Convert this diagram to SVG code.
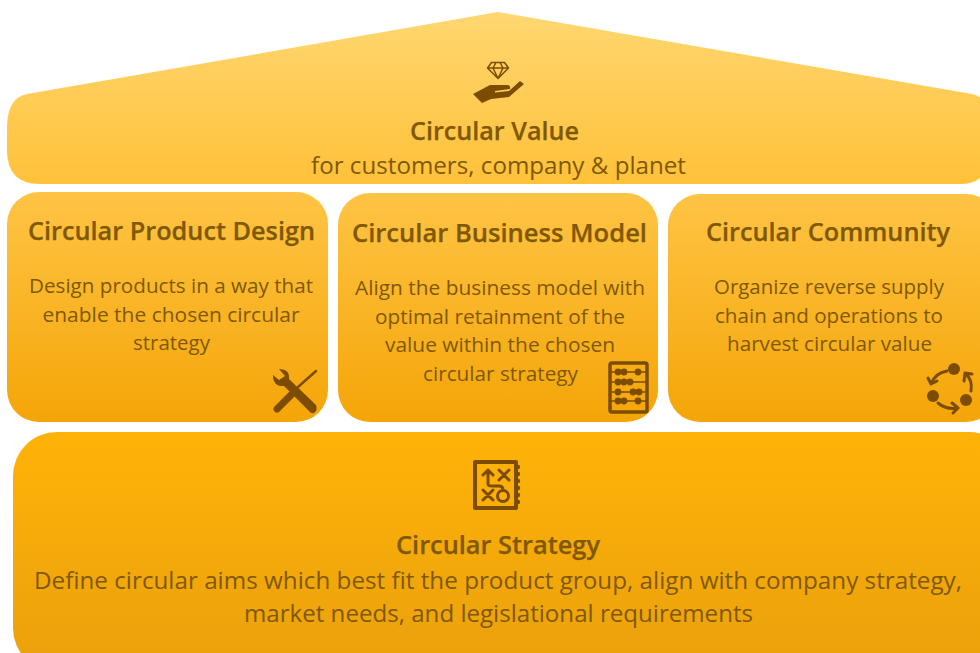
<svg xmlns="http://www.w3.org/2000/svg" width="980" height="653" viewBox="0 0 980 653">
<style>
text{font-family:"Open Sans","Noto Sans",sans-serif;fill:#7f5800;text-anchor:middle}
.h{font-size:25.300px;font-weight:600;stroke:#7f5800;stroke-width:.25}
.b{font-size:20.600px}
.s{font-size:24.200px}
.ic{fill:none;stroke:#7c4d00;stroke-linecap:round;stroke-linejoin:round}
.if{fill:#7c4d00}
</style>
<defs>
<linearGradient id="g1" gradientUnits="userSpaceOnUse" x1="0" y1="12" x2="0" y2="184"><stop offset="0" stop-color="#ffd771"/><stop offset="1" stop-color="#ffc139"/></linearGradient>
<linearGradient id="g2" gradientUnits="userSpaceOnUse" x1="0" y1="192" x2="0" y2="423"><stop offset="0" stop-color="#ffc445"/><stop offset="1" stop-color="#f4a507"/></linearGradient>
<linearGradient id="g3" gradientUnits="userSpaceOnUse" x1="0" y1="432" x2="0" y2="653"><stop offset="0" stop-color="#ffb308"/><stop offset="1" stop-color="#eba20c"/></linearGradient>
</defs>
<g id="value">
<path fill="url(#g1)" d="M498 12L972 94Q982 96 988 106V156Q988 184 960 184H40Q7 184 7 150V128Q7 98 27 94Z"/>
<text class="h" x="494.500" y="140" textLength="169" lengthAdjust="spacingAndGlyphs">Circular Value</text>
<text class="s" x="498.500" y="174" textLength="375" lengthAdjust="spacingAndGlyphs">for customers, company &amp; planet</text>
<path class="ic" style="stroke-width:1.500" d="M491.500 62.500h13l4 5.500-10.500 10.500-10.500-10.500zM487.500 68h21M493 68l5 10.500 5-10.500M493 68l3-5.500M503 68l-3-5.500"/>
<path class="if" d="M473 94L490 85L508 85Q511 86 510 89L495 91L495 92.500L509 91L520 81L524 84L509 97L491 99L482 103Z"/>
</g>
<g id="design">
<rect x="7" y="192" width="321" height="230" rx="32" fill="url(#g2)"/>
<text class="h" x="171.500" y="240" textLength="287" lengthAdjust="spacingAndGlyphs">Circular Product Design</text>
<text class="b" x="171" y="293" textLength="284" lengthAdjust="spacingAndGlyphs">Design products in a way that</text>
<text class="b" x="171" y="322" textLength="257" lengthAdjust="spacingAndGlyphs">enable the chosen circular</text>
<text class="b" x="171.500" y="350" textLength="77" lengthAdjust="spacingAndGlyphs">strategy</text>
<path class="if" d="M279 369Q290 369 289 379L316 405Q318 410 314 413Q311 414 309 411L284 386Q273 387 273 375L279 380L285 376Z"/>
<path class="ic" style="stroke-width:2.500" d="M298 387L316 371"/>
<path class="ic" style="stroke-width:7" d="M277 409L292 394"/>
</g>
<g id="business">
<rect x="338" y="193" width="320" height="229" rx="32" fill="url(#g2)"/>
<text class="h" x="499.500" y="242" textLength="295" lengthAdjust="spacingAndGlyphs">Circular Business Model</text>
<text class="b" x="500" y="295" textLength="290" lengthAdjust="spacingAndGlyphs">Align the business model with</text>
<text class="b" x="500" y="324" textLength="250" lengthAdjust="spacingAndGlyphs">optimal retainment of the</text>
<text class="b" x="500" y="352" textLength="230" lengthAdjust="spacingAndGlyphs">value within the chosen</text>
<text class="b" x="500.500" y="381" textLength="155" lengthAdjust="spacingAndGlyphs">circular strategy</text>
<rect class="ic" style="stroke-width:3.500" x="610" y="363" width="37" height="49" rx="2"/>
<path class="ic" style="stroke-width:1.500" d="M610 372h37M610 382h37M610 392h37M610 401h37"/>
<g class="if"><circle cx="618" cy="372" r="3.400"/><circle cx="624" cy="372" r="3.400"/><circle cx="638" cy="372" r="3.400"/><circle cx="618" cy="382" r="3.400"/><circle cx="624" cy="382" r="3.400"/><circle cx="630" cy="382" r="3.400"/><circle cx="618" cy="392" r="3.400"/><circle cx="633" cy="392" r="3.400"/><circle cx="639" cy="392" r="3.400"/><circle cx="618" cy="401" r="3.400"/><circle cx="624" cy="401" r="3.400"/><circle cx="638" cy="401" r="3.400"/></g>
</g>
<g id="community">
<rect x="668" y="194" width="330" height="228" rx="32" fill="url(#g2)"/>
<text class="h" x="828" y="241" textLength="244" lengthAdjust="spacingAndGlyphs">Circular Community</text>
<text class="b" x="829" y="294" textLength="230" lengthAdjust="spacingAndGlyphs">Organize reverse supply</text>
<text class="b" x="829" y="323" textLength="228" lengthAdjust="spacingAndGlyphs">chain and operations to</text>
<text class="b" x="829.500" y="351" textLength="205" lengthAdjust="spacingAndGlyphs">harvest circular value</text>
<g class="if"><circle cx="954" cy="369" r="6"/><circle cx="933" cy="396" r="6"/><circle cx="966" cy="400" r="6"/></g>
<path class="ic" style="stroke-width:3" d="M947 371q-12 2-16 13M928 378l3 6 6-3M938 403q8 7 20 5M952 403l6 5-5 5M971 391q2-11-6-18M964 381l1-8 7 1"/>
</g>
<g id="strategy">
<rect x="13" y="432" width="1000" height="240" rx="44" fill="url(#g3)"/>
<text class="h" x="498" y="554" textLength="204" lengthAdjust="spacingAndGlyphs">Circular Strategy</text>
<text class="s" x="498" y="589" textLength="928" lengthAdjust="spacingAndGlyphs">Define circular aims which best fit the product group, align with company strategy,</text>
<text class="s" x="498.500" y="622" textLength="509" lengthAdjust="spacingAndGlyphs">market needs, and legislational requirements</text>
<rect class="ic" style="stroke-width:4" x="475" y="462" width="41" height="46"/>
<g class="if"><circle cx="518" cy="467" r="2.200"/><circle cx="518" cy="474" r="2.200"/><circle cx="518" cy="481" r="2.200"/><circle cx="518" cy="488" r="2.200"/><circle cx="518" cy="495" r="2.200"/><circle cx="518" cy="502" r="2.200"/></g>
<path class="ic" style="stroke-width:3" d="M488 484v-14M483 475l5-5 5 5M488 484q0 2 4 2h7q4 0 4 4M499 470l10 10M509 470l-10 10M483 490l10 10M493 490l-10 10"/>
<circle class="ic" style="stroke-width:3" cx="503" cy="496" r="5.500"/>
</g>
<g id="connectors"></g>
</svg>
